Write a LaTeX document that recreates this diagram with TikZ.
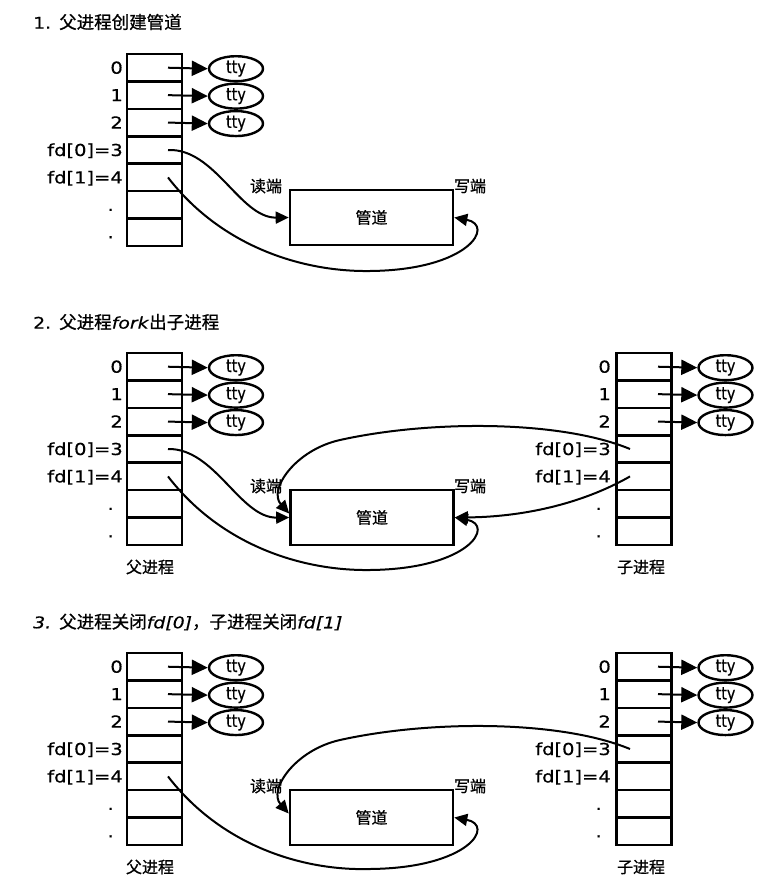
\documentclass[tikz,border=0pt]{standalone}
\usepackage{fontspec}
\setmainfont[FakeStretch=1.18,FakeBold=0.5]{DejaVu Sans}
\newfontfamily\ttyfont[FakeStretch=0.82,FakeBold=0.5]{DejaVu Sans}
\newfontfamily\cjk[FakeBold=0.8]{Noto Sans CJK SC}
\usetikzlibrary{shapes.geometric,arrows.meta}
\newcommand\cjkT[1]{{\cjk\fontsize{17.5}{18}\selectfont #1}}
\newcommand\cjkL[1]{{\cjk\fontsize{16}{16}\selectfont #1}}
\tikzset{
  cell/.style={draw, line width=2.6pt, minimum width=55pt, minimum height=27.43pt, inner sep=0pt},
  lbl/.style={font=\fontsize{16.5}{16}\selectfont, inner sep=0pt, text height=12pt, text depth=0pt, anchor=east},
  tty/.style={ellipse, draw, line width=2.4pt, minimum width=54pt, minimum height=25pt, inner sep=0pt, font=\ttyfont\fontsize{17.5}{18}\selectfont},
  ttyarr/.style={line width=2pt, -{Triangle[length=16pt,width=15pt]}},
  curve/.style={line width=2pt, -{Triangle[length=13pt,width=12pt]}},
  pipe/.style={draw, line width=2.6pt, minimum width=163pt, minimum height=55pt, inner sep=0pt},
  side/.style={inner sep=0pt},
  ttl/.style={anchor=west, inner sep=0pt, font=\fontsize{16}{16}\selectfont}
}
\newcommand\ptab[5]{%
  \foreach \i/\lab/\dx in {0/0/0,1/1/0,2/2/0,3/{fd[0]=3}/0,4/{fd[1]=4}/0,5/./9,6/./9}{%
    \node[cell] (#1\i) at (#2,{67.714+27.43*\i}) {};
    \node[lbl] (#1l\i) at ({#3-\dx},{67.714+27.43*\i}) {\lab};
  }
  \foreach \i in {0,1,2}{%
    \node[tty] (#1t\i) at (#4,{68.7+27.43*\i}) {tty};
    \draw[ttyarr] ([xshift=#5]#1\i.center) -- (#1t\i.west);
  }
}
\begin{document}
\begin{tikzpicture}[x=1pt,y=-1pt]
\useasboundingbox (0,0) rectangle (766,886);
\fill[white] (0,0) rectangle (766,886);

% titles
\node[ttl] (t1) at (33,22) {1. \cjkT{父进程创建管道}};
\node[ttl] (t2) at (33,322) {2. \cjkT{父进程}\textit{fork}\cjkT{出子进程}};
\node[ttl] (t3) at (33,622) {\textit{3.} \cjkT{父进程关闭}\textit{fd[0]}\cjkT{，子进程关闭}\textit{fd[1]}};

% ---------- section 1 ----------
\ptab{a}{154.5}{123}{236}{13.5pt}
\node[pipe] (pa) at (371.5,217.5) {\cjkL{管道}};
\node[side] (ra) at (266,186) {\cjkL{读端}};
\node[side] (wa) at (470,186) {\cjkL{写端}};
\draw[curve] ([xshift=13.5pt]a3.center) .. controls (215,148) and (240,218) .. (pa.west);
\draw[curve] ([xshift=13.5pt]a4.center) .. controls (220,245) and (300,272) .. (370,271)
   .. controls (470,270) and (495,225) .. (pa.east);

% ---------- section 2 ----------
\begin{scope}[yshift=-299pt]
\ptab{b}{154.5}{123}{236}{13.5pt}
\ptab{bc}{644}{611}{725.5}{14pt}
\node[pipe] (pb) at (372,218.5) {\cjkL{管道}};
\node[side] (rb) at (266,187) {\cjkL{读端}};
\node[side] (wb) at (470,187) {\cjkL{写端}};
\node[side] (fb) at (150,268) {\cjkL{父进程}};
\node[side] (cb) at (641,268) {\cjkL{子进程}};
\draw[curve] ([xshift=13.5pt]b3.center) .. controls (215,149) and (240,219) .. (pb.west);
\draw[curve] ([xshift=13.5pt]b4.center) .. controls (220,245) and (300,272) .. (370,271)
   .. controls (470,270) and (495,226) .. (pb.east);
\draw[curve] ([xshift=-14pt]bc3.center) .. controls (560,121) and (430,121) .. (340,141)
   .. controls (295,151) and (268,191) .. ([yshift=4pt]pb.west);
\draw[curve] ([xshift=-14pt]bc4.center) .. controls (580,206) and (520,218) .. (pb.east);
\end{scope}

% ---------- section 3 ----------
\begin{scope}[yshift=-599pt]
\ptab{c}{154.5}{123}{236}{13.5pt}
\ptab{cc}{644}{611}{725.5}{14pt}
\node[pipe] (pc) at (371.5,218.5) {\cjkL{管道}};
\node[side] (rc) at (266,187) {\cjkL{读端}};
\node[side] (wc) at (470,187) {\cjkL{写端}};
\node[side] (fc) at (150,268) {\cjkL{父进程}};
\node[side] (cc) at (641,268) {\cjkL{子进程}};
\draw[curve] ([xshift=13.5pt]c4.center) .. controls (220,245) and (300,272) .. (370,270)
   .. controls (470,269) and (495,226) .. (pc.east);
\draw[curve] ([xshift=-14pt]cc3.center) .. controls (560,121) and (430,121) .. (340,141)
   .. controls (295,151) and (268,191) .. ([yshift=4pt]pc.west);
\end{scope}
\end{tikzpicture}
\end{document}
